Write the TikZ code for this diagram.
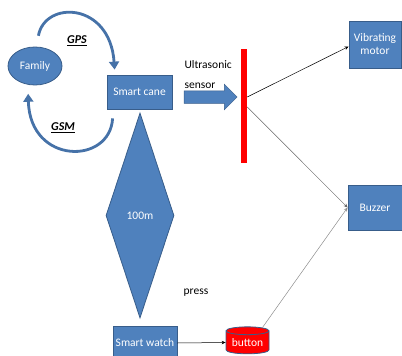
\documentclass[tikz,border=0pt]{standalone}
\usepackage{fontspec}
\setmainfont{Carlito}
\usetikzlibrary{arrows.meta,shapes.geometric,shapes.arrows}
\definecolor{boxblue}{RGB}{79,129,189}
\definecolor{boxedge}{RGB}{56,93,138}
\definecolor{arcblue}{RGB}{70,114,168}
\tikzset{
  blockbox/.style={draw=boxedge, fill=boxblue, text=white, line width=0.8pt,
    inner sep=1pt, align=center, font=\fontsize{11.5}{13}\selectfont},
  linkarc/.style={draw=arcblue, line width=2.8pt, -{Triangle[length=8pt,width=10pt]}},
  wire/.style={line width=0.5pt, -{Stealth[length=4pt,width=3.5pt]}},
  tag/.style={font=\fontsize{12}{13}\selectfont\bfseries\itshape}
}
\begin{document}
\begin{tikzpicture}[x=1pt,y=-1pt]
			\useasboundingbox (0,0) rectangle (402,356);
			% boxes
			\node[blockbox, ellipse, minimum width=54, minimum height=38] (family) at (35,66) {Family};
			\node[blockbox, minimum width=65, minimum height=34] (cane) at (139.5,92) {Smart cane};
			\node[blockbox, minimum width=52, minimum height=47] (motor) at (375,44.5) {Vibrating\\motor};
			\node[blockbox, minimum width=54, minimum height=45] (buzzer) at (375,207.5) {Buzzer};
			\node[blockbox, diamond, minimum width=68, minimum height=205, inner sep=0] (range) at (140,215.5) {100m};
			\node[blockbox, minimum width=64, minimum height=34] (watch) at (145,343) {Smart watch};
			\node[blockbox, cylinder, shape border rotate=90, aspect=0.25, fill=red,
			  minimum width=43, minimum height=27, inner sep=0] (button) at (247.5,342.5) {button};
			% sensor
			\node[single arrow, fill=boxblue, draw=boxedge, line width=0.5pt, inner sep=6pt,
			  minimum height=53, single arrow head extend=6.5pt] (usarrow) at (207.5,97) {};
			\node[fill=red, inner sep=0, minimum width=6, minimum height=114] (bar) at (244,106) {};
			\node[anchor=west, align=left, font=\fontsize{11.5}{20}\selectfont] (ustext) at (181,75) {Ultrasonic\\sensor};
			\node[font=\fontsize{11.5}{13}\selectfont] (press) at (196,293) {press};
			% GPS / GSM links
			\draw[linkarc] ([yshift=11pt]family.80) .. controls (45,0) and (110,2) .. ([xshift=8pt,yshift=5pt]cane.north west);
			\draw[linkarc] ([xshift=6pt,yshift=-9pt]cane.south west) .. controls (110,165) and (30,165) .. ([yshift=-9pt]family.250);
			\node[tag] (gps) at (77,41) {\underline{GPS}};
			\node[tag] (gsm) at (63,128) {\underline{GSM}};
			% wires
			\draw[wire, black] ([yshift=9pt]bar.east) -- ([yshift=-2pt]motor.west);
			\draw[wire, black!60] ([yshift=-1pt]bar.east) -- (buzzer.west);
			\draw[wire, black] (watch.east) -- (button.west);
			\draw[wire, black!45] (button.north east) -- (buzzer.west);
		\end{tikzpicture}
\end{document}
